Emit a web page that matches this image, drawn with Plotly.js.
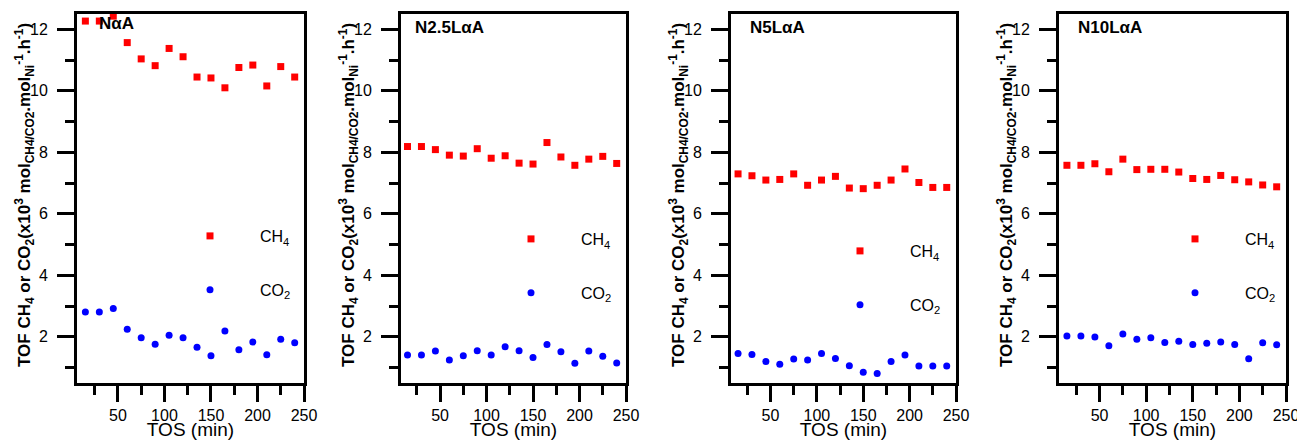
<!DOCTYPE html>
<html><head><meta charset="utf-8">
<script src="https://cdn.plot.ly/plotly-3.0.1.min.js"></script>
<style>html,body{margin:0;padding:0;background:#fff}#chart{width:1297px;height:440px}</style>
</head><body><div id="chart"></div>
<script>
// ---- data ----
const tos = [15,30,45,60,75,90,105,120,135,150,165,180,195,210,225,240];
const sampleNames = ['NαA','N2.5LαA','N5LαA','N10LαA'];
const seriesNames = ['CH<sub>4</sub>','CO<sub>2</sub>'];
const ch4_NaA    = [12.27,12.27,12.43,11.57,11.04,10.82,11.38,11.11,10.45,10.42,10.10,10.76,10.84,10.16,10.79,10.45];
const co2_NaA    = [2.81,2.81,2.92,2.25,1.97,1.76,2.05,1.97,1.66,1.39,2.19,1.58,1.83,1.42,1.92,1.81];
const ch4_N25LaA = [8.19,8.19,8.09,7.91,7.88,8.12,7.81,7.89,7.65,7.62,8.32,7.85,7.58,7.78,7.87,7.64];
const co2_N25LaA = [1.41,1.41,1.54,1.25,1.39,1.55,1.41,1.68,1.55,1.33,1.75,1.52,1.14,1.54,1.37,1.15];
const ch4_N5LaA  = [7.30,7.24,7.10,7.12,7.30,6.93,7.10,7.22,6.84,6.82,6.93,7.10,7.46,7.02,6.86,6.86];
const co2_N5LaA  = [1.46,1.43,1.20,1.11,1.28,1.25,1.46,1.30,1.06,0.85,0.81,1.20,1.41,1.05,1.05,1.05];
const ch4_N10LaA = [7.58,7.58,7.63,7.37,7.78,7.44,7.45,7.45,7.36,7.15,7.12,7.25,7.11,7.04,6.94,6.88];
const co2_N10LaA = [2.03,2.03,2.00,1.71,2.09,1.92,1.97,1.82,1.86,1.75,1.79,1.83,1.75,1.29,1.81,1.74];
const ch4Series = [ch4_NaA, ch4_N25LaA, ch4_N5LaA, ch4_N10LaA];
const co2Series = [co2_NaA, co2_N25LaA, co2_N5LaA, co2_N10LaA];
const yTickVals = [2,4,6,8,10,12];
const xTickVals = [50,100,150,200,250];

// ---- layout geometry (pixels) ----
const W = 1297, H = 440, mT = 14, mB = 57;
const PH = H - mT - mB;
const geo = [
  {left:77,  right:304,  xmin:6,   labDx:20, labDy:9,  legX:210,  legY:236},
  {left:401, right:626,  xmin:8,   labDx:12, labDy:14, legX:531,  legY:239},
  {left:731, right:956,  xmin:7.4, labDx:17, labDy:14, legX:860,  legY:251},
  {left:1059,right:1286, xmin:6.5, labDx:17, labDy:14, legX:1195, legY:239}
];
const FONT = 'Liberation Sans, Arial, sans-serif';
const RED = '#ff0000', BLUE = '#0000ff';
const ITEMW = 90;

const traces = [];
const layout = {
  width: W, height: H,
  margin: {l:0, r:0, t:mT, b:mB, pad:0},
  paper_bgcolor:'#fff', plot_bgcolor:'#fff',
  font: {family: FONT, size: 16, color:'#000'},
  annotations: [],
  showlegend: true
};
const yTitle = '<b>TOF CH<sub>4</sub> or CO<sub>2</sub>(x10<sup>3</sup> mol<sub>CH4/CO2</sub>.mol<sub>Ni</sub><sup>-1</sup>.h<sup>-1</sup>)</b>';

geo.forEach((g, i) => {
  const n = i === 0 ? '' : String(i + 1);
  const lg = i === 0 ? 'legend' : 'legend' + (i + 1);
  traces.push({
    x: tos, y: ch4Series[i], xaxis:'x'+n, yaxis:'y'+n, type:'scatter', mode:'markers',
    name: seriesNames[0], legend: lg, legendgroup: 'c'+i,
    marker: {symbol:'square', size:7, color:RED}, cliponaxis:true, hoverinfo:'x+y'
  });
  traces.push({
    x: tos, y: co2Series[i], xaxis:'x'+n, yaxis:'y'+n, type:'scatter', mode:'markers',
    name: seriesNames[1], legend: lg, legendgroup: 'd'+i,
    marker: {symbol:'circle', size:7, color:BLUE}, cliponaxis:true, hoverinfo:'x+y'
  });
  layout['xaxis'+n] = {
    domain: [g.left / W, g.right / W], anchor: 'y'+n, range: [g.xmin, 250],
    showgrid:false, zeroline:false, showline:true, mirror:true, linewidth:3, linecolor:'#000',
    ticks:'outside', ticklen:16, tickwidth:3, tickcolor:'#000',
    tickvals: xTickVals, tickfont:{size:16, family:FONT}, ticklabeloverflow:'allow',
    minor: {dtick:25, tick0:0, ticks:'outside', ticklen:9, tickwidth:3, tickcolor:'#000', showgrid:false},
    title: {text:'TOS (min)', font:{size:19, family:FONT}, standoff:4},
    automargin:false, fixedrange:true
  };
  layout['yaxis'+n] = {
    domain: [0, 1], anchor: 'x'+n, range: [0.5, 12.5],
    showgrid:false, zeroline:false, showline:true, mirror:true, linewidth:3, linecolor:'#000',
    ticks:'outside', ticklen:17, tickwidth:3, tickcolor:'#000',
    tickvals: yTickVals, tickfont:{size:16, family:FONT}, ticklabelstandoff: 6,
    minor: {dtick:1, tick0:0, ticks:'outside', ticklen:9, tickwidth:3, tickcolor:'#000', showgrid:false},
    automargin:false, fixedrange:true
  };
  // y title as rotated text
  layout.annotations.push({
    xref:'paper', yref:'paper', x:(g.left - 53) / W, y: 1 - (195 - mT) / PH,
    xanchor:'center', yanchor:'middle', textangle:-90, showarrow:false,
    text: yTitle, font:{size:17, family:FONT, color:'#000'}
  });
  // panel label
  layout.annotations.push({
    xref:'x'+n+' domain', yref:'y'+n+' domain', x: g.labDx / (g.right - g.left), y: 1 - g.labDy / PH,
    xanchor:'left', yanchor:'middle', showarrow:false,
    text:'<b>' + sampleNames[i] + '</b>', font:{size:17, family:FONT, color:'#000'}
  });
  layout[lg] = {
    x: (g.legX - (5 + ITEMW / 2)) / W, xanchor:'left',
    y: 1 - (g.legY - 17 - mT) / PH, yanchor:'top',
    bgcolor:'rgba(0,0,0,0)', borderwidth:0,
    itemwidth: ITEMW, traceorder:'grouped', tracegroupgap: 30,
    font:{size:16, family:FONT, color:'#000'}, itemclick:false, itemdoubleclick:false
  };
});

Plotly.newPlot('chart', traces, layout, {displayModeBar:false, staticPlot:true});
</script>
</body></html>
